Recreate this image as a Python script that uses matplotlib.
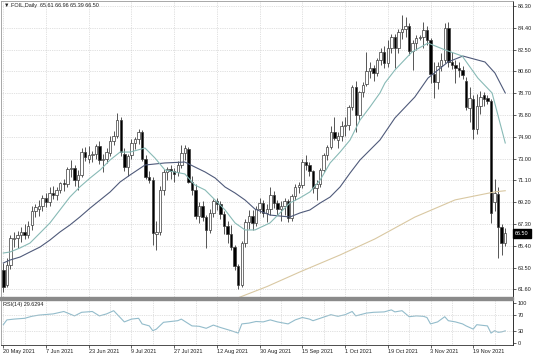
import matplotlib
matplotlib.use('Agg')
import matplotlib.pyplot as plt
from matplotlib import transforms
from matplotlib.patches import Rectangle

# FOIL daily candles, 20 May 2021 .. 2 Dec 2021 (one bar per trading day, bar index = position)
opens = [63.3, 62.0, 63.7, 66.0, 66.1, 66.3, 66.6, 66.3, 67.2, 68.4,
         68.6, 68.9, 69.6, 69.2, 70.0, 69.8, 70.3, 70.9, 70.8, 72.1,
         72.2, 71.1, 71.6, 73.6, 73.0, 73.3, 73.4, 74.1, 72.9, 73.0,
         73.5, 74.5, 75.0, 76.4, 73.4, 72.3, 73.3, 74.4, 74.7, 75.3,
         73.0, 71.4, 71.1, 66.4, 66.6, 70.3, 71.8, 72.1, 71.9, 71.8,
         72.4, 73.5, 73.8, 71.0, 70.3, 68.0, 68.9, 67.9, 66.8, 68.3,
         69.3, 69.0, 68.2, 67.1, 66.4, 65.3, 63.6, 62.0, 65.6, 67.5,
         68.0, 67.4, 68.6, 69.1, 68.3, 68.6, 69.8, 69.1, 68.6, 68.9,
         69.3, 67.8, 69.7, 70.5, 70.7, 72.7, 72.4, 71.9, 70.4, 70.8,
         72.0, 73.3, 74.0, 75.3, 74.6, 75.0, 75.8, 75.9, 77.5, 79.2,
         76.8, 78.8, 79.5, 80.6, 80.9, 80.5, 81.6, 82.3, 81.3, 82.6,
         83.6, 82.6, 84.0, 84.3, 84.6, 82.4, 83.1, 83.5, 83.6, 84.2,
         83.3, 80.4, 79.7, 81.1, 81.6, 84.4, 81.4, 81.2, 80.9, 80.7,
         79.8, 77.4, 78.2, 75.6, 77.6, 78.5, 78.3, 78.0, 69.2, 69.9,
         67.0, 65.61]
highs = [63.9, 64.3, 66.3, 66.6, 66.7, 67.0, 67.3, 67.6, 68.9, 69.0,
         69.4, 69.8, 70.0, 70.5, 70.6, 70.5, 71.0, 71.2, 72.3, 72.9,
         72.4, 72.0, 73.9, 74.0, 74.1, 73.7, 74.3, 74.5, 73.4, 73.9,
         75.0, 75.4, 77.0, 76.6, 73.9, 73.4, 74.7, 74.9, 75.6, 75.5,
         73.3, 71.9, 71.4, 67.6, 70.6, 72.1, 72.3, 72.4, 72.2, 72.8,
         74.2, 74.2, 74.0, 71.5, 70.8, 69.2, 69.3, 68.1, 68.6, 69.5,
         69.6, 69.3, 68.4, 67.6, 67.2, 65.5, 63.8, 65.8, 67.7, 68.5,
         68.5, 68.9, 69.6, 69.4, 69.0, 70.5, 70.2, 69.4, 69.3, 69.6,
         69.5, 69.9, 70.8, 71.0, 73.0, 73.3, 72.7, 72.0, 71.1, 72.2,
         73.5, 74.2, 75.8, 76.6, 75.3, 76.3, 76.6, 77.7, 79.4, 79.8,
         78.9, 79.7, 82.3, 81.4, 81.2, 81.8, 82.6, 82.8, 83.3, 83.9,
         83.9, 84.3, 85.5, 85.3, 84.8, 83.3, 83.8, 83.8, 84.9, 84.6,
         83.5, 81.4, 81.4, 82.2, 84.8, 84.9, 82.3, 81.6, 81.4, 81.1,
         80.1, 79.2, 78.5, 78.6, 78.9, 78.8, 78.5, 78.2, 71.2, 70.5,
         67.3, 66.96]
lows = [61.4, 61.8, 63.4, 65.3, 65.2, 65.7, 66.0, 66.1, 66.8, 67.9,
        68.0, 68.4, 68.8, 68.9, 69.5, 69.4, 70.0, 70.2, 70.5, 71.4,
        70.6, 70.3, 71.4, 72.8, 72.6, 72.7, 73.0, 72.5, 71.8, 72.6,
        73.2, 74.2, 74.8, 73.2, 71.9, 71.5, 73.0, 73.8, 74.3, 72.8,
        71.2, 70.9, 65.5, 65.0, 66.3, 69.8, 71.1, 71.2, 71.0, 71.5,
        72.2, 72.9, 70.9, 69.8, 67.7, 67.4, 67.6, 65.2, 66.5, 67.9,
        68.5, 67.7, 66.4, 65.6, 65.0, 63.3, 61.6, 61.8, 65.3, 66.9,
        66.8, 67.1, 68.3, 67.9, 67.5, 68.1, 68.7, 68.1, 67.6, 68.1,
        67.5, 67.6, 69.4, 70.0, 70.4, 72.0, 71.5, 70.0, 69.4, 70.5,
        71.8, 72.9, 73.8, 74.6, 73.9, 74.5, 75.0, 75.5, 77.2, 75.3,
        76.4, 78.4, 79.3, 80.0, 79.8, 80.2, 81.2, 80.9, 81.0, 82.2,
        80.9, 82.2, 83.4, 83.6, 82.0, 80.7, 82.5, 83.3, 82.6, 82.9,
        79.6, 78.3, 79.1, 80.6, 81.3, 81.0, 80.8, 79.6, 80.1, 79.9,
        77.2, 76.2, 74.7, 75.1, 76.9, 77.6, 77.8, 67.4, 68.4, 64.3,
        64.6, 65.39]
closes = [61.8, 63.7, 66.05, 66.1, 66.3, 66.6, 66.3, 67.1, 68.4, 68.8,
          68.9, 69.6, 69.2, 70.0, 69.8, 70.3, 70.9, 70.8, 72.1, 72.2,
          71.1, 71.6, 73.6, 73.1, 73.3, 73.4, 74.1, 72.9, 73.0, 73.6,
          74.5, 75.0, 76.4, 73.6, 72.3, 73.2, 74.4, 74.7, 75.3, 73.0,
          71.4, 71.1, 66.5, 66.6, 70.3, 71.8, 72.1, 71.9, 71.7, 72.4,
          73.5, 73.9, 71.0, 70.3, 68.0, 68.9, 67.9, 66.8, 68.3, 69.3,
          69.0, 68.2, 67.1, 66.4, 65.3, 63.6, 62.0, 65.6, 67.5, 68.0,
          67.4, 68.6, 69.1, 68.3, 68.6, 69.8, 69.1, 68.6, 68.9, 69.3,
          67.8, 69.7, 70.5, 70.7, 72.7, 72.4, 71.9, 70.4, 70.8, 72.0,
          73.3, 74.0, 75.3, 74.8, 75.0, 75.8, 75.9, 77.5, 79.2, 76.8,
          78.8, 79.4, 80.6, 80.9, 80.5, 81.6, 82.3, 81.3, 82.6, 83.6,
          82.6, 84.0, 84.3, 84.6, 82.4, 83.1, 83.5, 83.6, 84.2, 83.3,
          80.4, 79.7, 81.1, 81.6, 84.4, 81.4, 81.2, 80.9, 80.7, 80.3,
          77.5, 78.3, 75.6, 77.6, 78.4, 78.2, 78.0, 68.3, 70.0, 67.0,
          65.6, 66.50]

# moving averages (bar index, price)
fast_ma_idx = [0, 1.9, 4.7, 7.5, 10.3, 13.1, 15.9, 18.7, 21.5, 24.4, 27.2, 30.0,
               32.8, 35.6, 39.8, 42.6, 45.4, 48.2, 51.0, 53.8, 56.7, 59.5, 62.3,
               65.1, 67.9, 70.7, 74.9, 77.7, 80.5, 83.3, 86.1, 89.0, 91.8, 94.6,
               97.4, 100.2, 103.0, 105.8, 107.2, 110.0, 114.8, 119.3, 124.1,
               128.9, 133.3, 137.3, 141]
fast_ma = [64.77, 64.86, 65.21, 65.64, 66.51, 67.39, 68.52, 69.65, 70.53, 71.31,
           72.01, 72.88, 73.57, 73.57, 73.92, 73.05, 72.01, 71.83, 71.66, 70.70,
           70.26, 69.39, 68.52, 67.39, 66.78, 66.78, 67.39, 68.26, 69.13, 69.57,
           70.09, 71.13, 72.62, 73.57, 74.62, 76.36, 77.50, 78.72, 79.59, 80.72,
           82.29, 83.07, 82.47, 81.94, 80.02, 78.72, 74.36]
slow_ma_idx = [0, 1.9, 4.7, 7.5, 10.3, 13.1, 15.9, 18.7, 21.5, 24.4, 27.2, 30.0,
               32.8, 35.6, 39.8, 45.4, 51.0, 53.8, 56.7, 59.5, 62.3, 65.1, 67.9,
               70.7, 74.9, 80.5, 83.3, 86.1, 89.0, 91.8, 94.6, 97.4, 100.2, 103.0,
               105.8, 110.0, 115.6, 119.3, 124.9, 129.1, 135.3, 138.1, 141]
slow_ma = [63.90, 64.16, 64.42, 64.86, 65.29, 65.90, 66.60, 67.21, 67.91, 68.69,
           69.39, 70.09, 70.96, 71.57, 72.44, 72.62, 72.70, 72.27, 71.83, 71.31,
           70.52, 70.00, 69.39, 68.60, 68.08, 67.91, 68.26, 68.52, 69.13, 69.65,
           70.53, 71.74, 72.88, 73.75, 74.62, 76.54, 78.37, 80.02, 81.42, 81.94,
           81.42, 80.46, 78.72]
long_ma_idx = [65, 74.1, 83.3, 94.6, 104.4, 115.6, 126.9, 138.1, 141]
long_ma = [60.75, 61.85, 63.12, 64.60, 66.00, 67.90, 69.40, 70.10, 70.20]

# RSI(14)
rsi_idx = [0, 1, 3, 6, 8, 10, 14, 17, 20, 22, 25, 27, 29, 31, 34, 36, 38, 39, 41,
           42, 43, 45, 47, 49, 50, 53, 55, 57, 59, 61, 64, 66, 67, 69, 71, 73, 75,
           77, 80, 82, 84, 86, 87, 89, 92, 94, 96, 98, 99, 102, 104, 107, 109, 110,
           112, 114, 116, 118, 119, 120, 122, 124, 125, 127, 129, 130, 132, 133,
           136, 137, 138, 139, 140, 141]
rsi_val = [45, 57, 59, 61, 66, 69, 72, 78, 67, 76, 78, 67, 72, 80, 52, 59, 61, 47,
           42, 30, 34, 51, 53, 55, 59, 42, 41, 36, 44, 38, 30, 24, 47, 49, 53, 52,
           57, 52, 47, 57, 63, 59, 55, 61, 70, 66, 70, 78, 67, 74, 76, 77, 82, 77,
           80, 65, 67, 66, 63, 47, 52, 65, 55, 52, 47, 42, 34, 45, 42, 24, 30, 26,
           27, 29.6]

date_ticks = [0, 12, 24, 36, 48, 60, 72, 84, 96, 108, 120, 132]
date_labels = ['20 May 2021', '7 Jun 2021', '23 Jun 2021', '9 Jul 2021', '27 Jul 2021',
               '12 Aug 2021', '30 Aug 2021', '15 Sep 2021', '1 Oct 2021', '19 Oct 2021',
               '3 Nov 2021', '19 Nov 2021']
price_ticks = [86.30, 84.40, 82.50, 80.60, 78.70, 76.80, 74.90, 73.00, 71.10,
               69.20, 67.30, 65.40, 63.50, 61.60]
rsi_ticks = [0, 30, 70, 100]

plt.rcParams['font.family'] = ['Liberation Sans', 'DejaVu Sans']
plt.rcParams['font.size'] = 4.0

W, H = 536, 357
fig = plt.figure(figsize=(W / 100, H / 100), dpi=100)


def px_box(left, top, right, bottom):
    return [left / W, 1 - bottom / H, (right - left) / W, (bottom - top) / H]


ax = fig.add_axes(px_box(0.5, 0.5, 513, 297.5))
rsi_ax = fig.add_axes(px_box(0.5, 299.3, 513, 345), sharex=ax)

grid_kw = dict(color='#c4c4c4', linewidth=0.5, linestyle=(0, (1, 1.6)))

# candles
bars = range(len(closes))
up = [c >= o for o, c in zip(opens, closes)]
ax.vlines(bars, lows, highs, color='#3a3a3a', linewidth=0.6, zorder=2)
ax.bar(bars, [abs(c - o) for o, c in zip(opens, closes)], 0.68,
       bottom=[min(o, c) for o, c in zip(opens, closes)],
       color=['white' if u else 'black' for u in up],
       edgecolor='#3a3a3a', linewidth=0.5, zorder=3)

ax.plot(long_ma_idx, long_ma, color='#d9c8a2', linewidth=0.8, zorder=4)
ax.plot(slow_ma_idx, slow_ma, color='#4f5a7a', linewidth=0.8, zorder=4)
ax.plot(fast_ma_idx, fast_ma, color='#88bab6', linewidth=0.8, zorder=4)

ax.set_xlim((0.5 - 3.3) / 3.56, (513 - 3.3) / 3.56)
ax.set_ylim(86.823 - 0.08716 * 297.5, 86.823 - 0.08716 * 0.5)
ax.set_xticks(range(0, 144, 6))
ax.set_yticks(price_ticks)
ax.set_yticklabels(['%.2f' % p for p in price_ticks])
ax.yaxis.tick_right()
ax.tick_params(axis='y', length=2, width=0.5, pad=1.5, colors='#202020')
ax.tick_params(axis='x', length=0, labelbottom=False)
ax.grid(True, **grid_kw)
ax.set_axisbelow(True)

# current price marker
trans = transforms.blended_transform_factory(ax.transAxes, ax.transData)
ax.text(1.004, closes[-1], '%.2f' % closes[-1], transform=trans, color='white',
        va='center', ha='left', fontsize=4.0, zorder=10, clip_on=False,
        bbox=dict(boxstyle='square,pad=0.35', facecolor='black', edgecolor='black'))

# RSI window
rsi_ax.plot(rsi_idx, rsi_val, color='#93bccb', linewidth=0.8)
rsi_ax.set_ylim(-5.75, 108.5)
rsi_ax.set_yticks(rsi_ticks)
rsi_ax.yaxis.tick_right()
rsi_ax.tick_params(axis='y', length=2, width=0.5, pad=1.5, colors='#202020')
rsi_ax.set_xticks(date_ticks)
rsi_ax.set_xticklabels(date_labels, ha='left')
rsi_ax.set_xticks(range(0, 144, 6), minor=True)
rsi_ax.tick_params(axis='x', which='major', length=2, width=0.5, pad=1.2, colors='#202020')
rsi_ax.tick_params(axis='x', which='minor', length=0)
rsi_ax.grid(True, axis='x', which='both', **grid_kw)
for lvl in (30, 70):
    rsi_ax.axhline(lvl, **grid_kw)

for a in (ax, rsi_ax):
    for side in ('top', 'left', 'bottom'):
        a.spines[side].set_color('#9a9a9a')
        a.spines[side].set_linewidth(0.6)
    a.spines['right'].set_color('#303030')
    a.spines['right'].set_linewidth(0.7)
rsi_ax.spines['bottom'].set_color('#303030')

# panel separator
fig.patches.append(Rectangle((0, 1 - 299.5 / H), 513 / W, 2.3 / H,
                             transform=fig.transFigure, color='#8a8a8a'))

fig.text(4 / W, 1 - 6 / H, '\u25bc FOIL,Daily  65.61 66.96 65.39 66.50',
         va='center', ha='left', fontsize=4.0, color='#202020')
fig.text(3 / W, 1 - 304.5 / H, 'RSI(14) 29.6294', va='center', ha='left',
         fontsize=4.0, color='#202020')

fig.savefig('out.png', dpi=100)
